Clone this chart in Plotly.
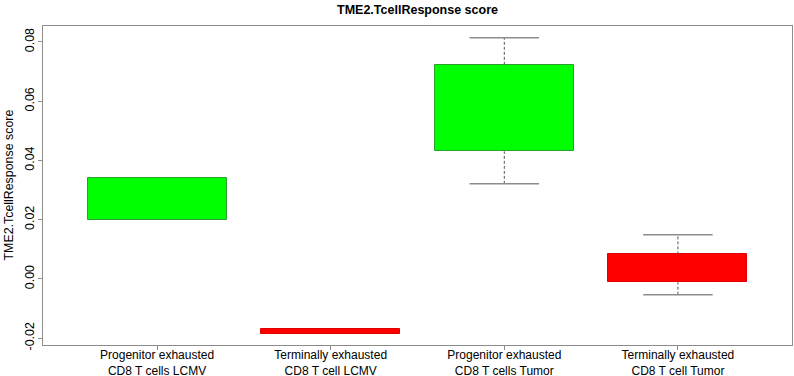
import plotly.graph_objects as go

categories = ["Progenitor exhausted<br>CD8 T cells LCMV",
              "Terminally exhausted<br>CD8 T cell LCMV",
              "Progenitor exhausted<br>CD8 T cells Tumor",
              "Terminally exhausted<br>CD8 T cell Tumor"]
q1 = [0.0198, -0.0187, 0.0431, -0.0011]
q3 = [0.0340, -0.0170, 0.0723, 0.0083]
lower_whisker = [0.0198, -0.0187, 0.0321, -0.0053]
upper_whisker = [0.0340, -0.0170, 0.0814, 0.0149]
fill_colors = ["#00FF00", "#FF0000", "#00FF00", "#FF0000"]
border_colors = ["#2E9E2E", "#E00000", "#2E9E2E", "#E00000"]
y_tickvals = [-0.02, 0.00, 0.02, 0.04, 0.06, 0.08]
y_ticktext = ["-0.02", "0.00", "0.02", "0.04", "0.06", "0.08"]

xs = list(range(1, len(categories) + 1))
box_w = 0.8
cap_w = 0.4

fig = go.Figure()

# whiskers (dashed)
wx, wy = [], []
for x, lo, a, b, hi in zip(xs, lower_whisker, q1, q3, upper_whisker):
    if hi > b:
        wx += [x, x, None]; wy += [b, hi, None]
    if lo < a:
        wx += [x, x, None]; wy += [lo, a, None]
fig.add_trace(go.Scatter(x=wx, y=wy, mode="lines",
                         line=dict(color="#555555", width=1, dash="3px,2px"),
                         showlegend=False, hoverinfo="skip"))
# caps
cx, cy = [], []
for x, lo, a, b, hi in zip(xs, lower_whisker, q1, q3, upper_whisker):
    if hi > b:
        cx += [x - cap_w / 2, x + cap_w / 2, None]; cy += [hi, hi, None]
    if lo < a:
        cx += [x - cap_w / 2, x + cap_w / 2, None]; cy += [lo, lo, None]
fig.add_trace(go.Scatter(x=cx, y=cy, mode="lines",
                         line=dict(color="#8c8c8c", width=1.5),
                         showlegend=False, hoverinfo="skip"))
# boxes
fig.add_trace(go.Bar(x=xs, y=[b - a for a, b in zip(q1, q3)], base=q1,
                     width=box_w,
                     marker=dict(color=fill_colors,
                                 line=dict(color=border_colors, width=1)),
                     showlegend=False))

fig.update_layout(
    width=794, height=376,
    margin=dict(l=43, r=2, t=26, b=31),
    paper_bgcolor="white", plot_bgcolor="white",
    font=dict(family="Liberation Sans, Arial, sans-serif", size=12, color="black"),
    title=dict(text="<b>TME2.TcellResponse score</b>", xref="paper", x=0.5,
               xanchor="center", y=1 - 10 / 376, yanchor="middle",
               font=dict(size=12.5)),
    bargap=0,
)
fig.update_xaxes(range=[0.343, 4.657], tickvals=xs, ticktext=categories,
                 automargin=False,
                 showgrid=False, zeroline=False, showline=True, mirror=True,
                 linecolor="#8c8c8c", linewidth=1, ticks="outside", ticklen=4,
                 tickcolor="#8c8c8c", tickfont=dict(size=12),
                 ticklabelstandoff=-5)
fig.update_yaxes(range=[-0.0223, 0.0854], tickvals=y_tickvals, ticktext=y_ticktext,
                 automargin=False,
                 showgrid=False, zeroline=False, showline=True, mirror=True,
                 linecolor="#8c8c8c", linewidth=1, ticks="outside", ticklen=4,
                 tickcolor="#8c8c8c", tickangle=-90, tickfont=dict(size=12.4),
                 ticklabelstandoff=-1)
fig.add_annotation(text="TME2.TcellResponse score", textangle=-90,
                   xref="paper", yref="paper", x=-35 / 749, y=0.5,
                   xanchor="center", yanchor="middle", showarrow=False,
                   font=dict(size=12.4))

fig.write_html("out.html", config={"displayModeBar": False},
               post_script="document.body.style.margin='0';")
